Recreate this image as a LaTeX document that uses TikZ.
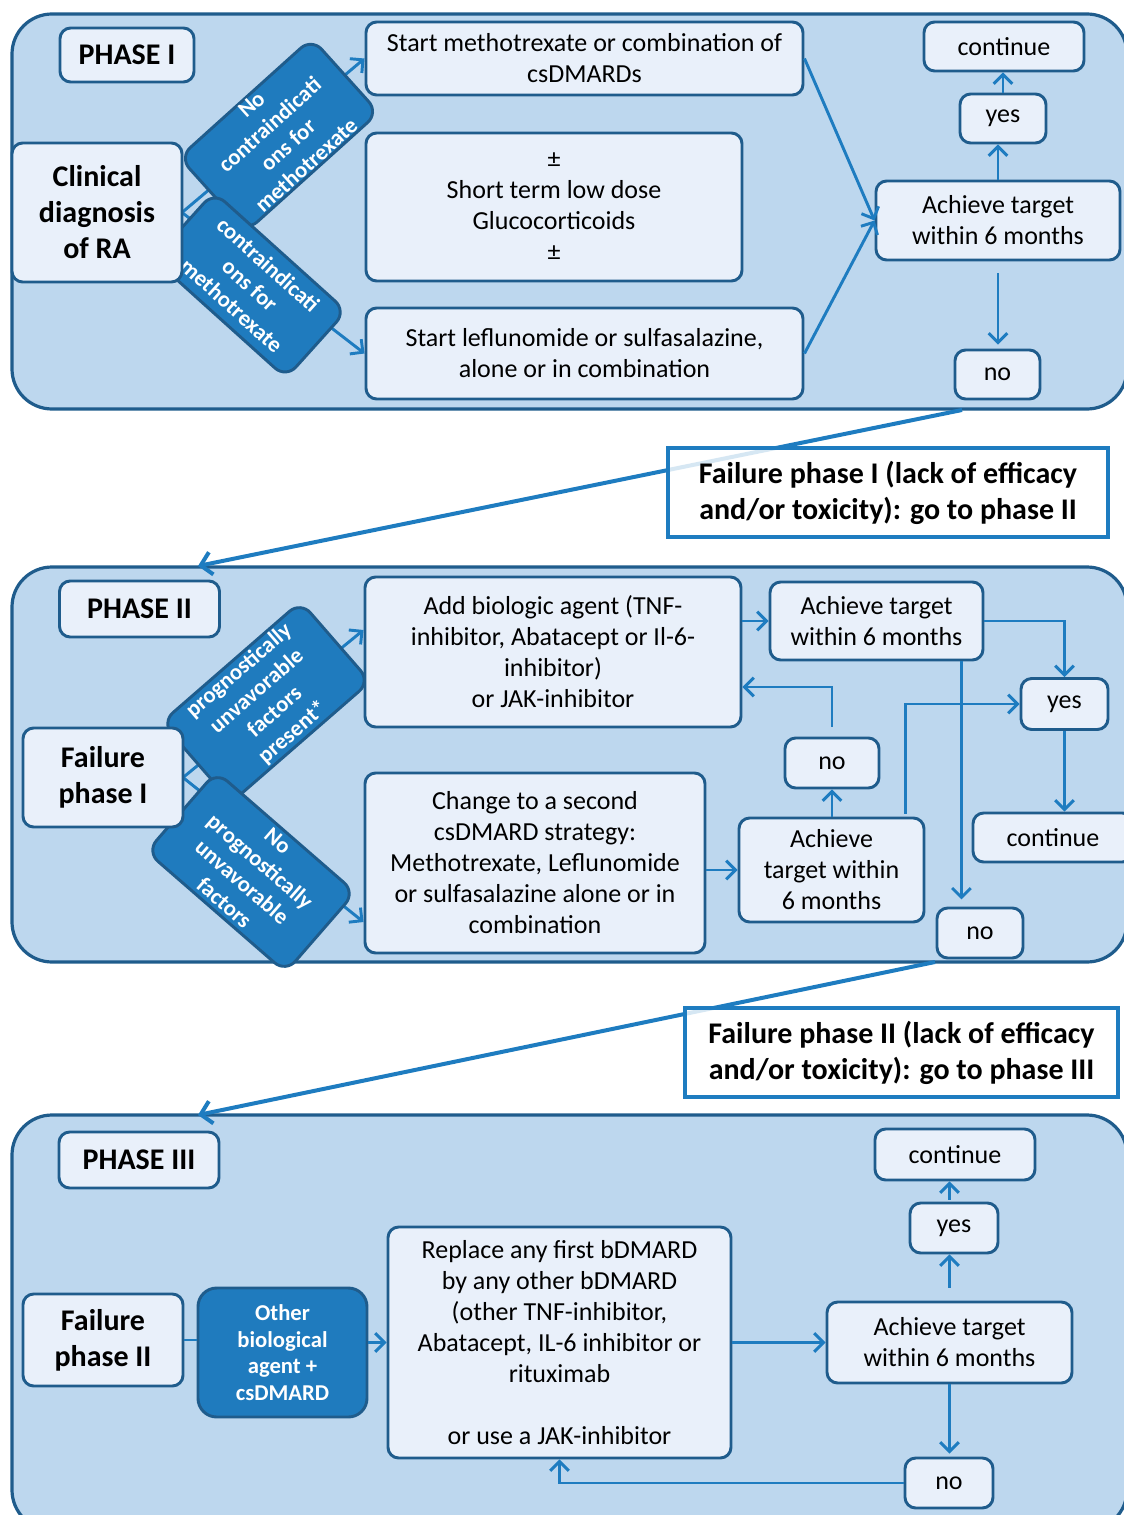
\documentclass[tikz,border=0pt]{standalone}
\usepackage{fontspec}
\setmainfont{Carlito}
\usetikzlibrary{arrows.meta,calc}

\definecolor{panelfill}{HTML}{BDD7EE}
\definecolor{panelline}{HTML}{1F5C8C}
\definecolor{boxfill}{HTML}{E9F0FA}
\definecolor{arrowc}{HTML}{1E7CC0}
\definecolor{darkfill}{HTML}{1F7BBE}

\tikzset{
 panel/.style={draw=panelline, line width=2.4pt, fill=panelfill, rounded corners=30pt},
 wbox/.style={draw=panelline, line width=2.2pt, fill=boxfill, rounded corners=8pt, align=center, inner sep=0pt, font=\fontsize{19.5}{23.25}\selectfont},
 bbox/.style={wbox, font=\fontsize{22.5}{27}\selectfont\bfseries},
 dbox/.style={draw=panelline, line width=2.2pt, fill=darkfill, rounded corners=11pt, align=center, inner sep=0pt, text=white, font=\fontsize{17}{20.5}\selectfont\bfseries},
 callout/.style={draw=arrowc, line width=2.3pt, fill=white, fill opacity=0.82, text opacity=1, align=center, inner sep=0pt, font=\fontsize{22.5}{27}\selectfont\bfseries},
 arr/.style={draw=arrowc, line width=2.2pt, -{Straight Barb[length=7pt,width=14pt,line width=2.2pt]}},
 plainline/.style={draw=arrowc, line width=2.2pt},
 bigarr/.style={draw=arrowc, line width=3pt, -{Straight Barb[length=8pt,width=17pt,line width=3pt]}},
 sz/.style 2 args={minimum width=#1*0.75pt, minimum height=#2*0.75pt},
}

\begin{document}
\begin{tikzpicture}[x=0.75pt, y=-0.75pt]
\useasboundingbox (0,0) rectangle (1123,1515);

% ---------- panels ----------
\draw[panel] (12,14) rectangle (1127,409);
\draw[panel] (12,567) rectangle (1127,962);
\draw[panel] (12,1115) rectangle (1127,1530);

% ================= PHASE I =================
\node[bbox, sz={134}{54}] (ph1) at (127,55) {PHASE I};
\node[wbox, sz={437}{73}] (sm) at (584.5,58.5) {Start methotrexate or combination of\\csDMARDs};
\node[wbox, sz={376}{148}] (gc) at (554,207) {±\\Short term low dose\\Glucocorticoids\\±};
\node[wbox, sz={437}{91}] (sl) at (584.5,353.5) {Start leflunomide or sulfasalazine,\\alone or in combination};
\node[wbox, sz={244}{79}] (at1) at (998,220.5) {Achieve target\\within 6 months};
\node[wbox, sz={86}{49}] (yes1) at (1003,118.5) {yes};
\node[wbox, sz={160}{49}] (cont1) at (1004,46.5) {continue};
\node[wbox, sz={85}{49}] (no1) at (997.5,374.5) {no};

% arrows that pass behind the rotated boxes
\coordinate (clinE) at (182,212.5);
\draw[arr] (clinE) -- (sm.west);
\draw[arr] (clinE) -- (sl.west);

\node[dbox, sz={178}{100}, rotate=42] (r1) at (279,135) {No\\contraindicati\\ons for\\methotrexate};
\node[dbox, sz={178}{90}, rotate=-42] (r2) at (250,285) {contraindicati\\ons for\\methotrexate};
\node[bbox, sz={170}{139}] (clin) at (97,212.5) {Clinical\\diagnosis\\of RA};

\draw[arr] (sm.east) -- (at1.west);
\draw[arr] (sl.east) -- (at1.west);
\draw[arr] (at1.north) -- (at1.north |- yes1.south);
\draw[arr] (yes1.north) -- (yes1.north |- cont1.south);
\draw[arr] ($(at1.south)+(0,12)$) -- ($(at1.south |- no1.north)+(0,-4)$);

% ================= PHASE II =================
\node[bbox, sz={160}{56}] (ph2) at (139.5,609) {PHASE II};
\node[wbox, sz={376}{150}] (ab) at (553,652) {Add biologic agent (TNF-\\inhibitor, Abatacept or Il-6-\\inhibitor)\\or JAK-inhibitor};
\node[wbox, sz={340}{180}] (ch) at (535,863) {Change to a second\\csDMARD strategy:\\Methotrexate, Leflunomide\\or sulfasalazine alone or in\\combination};
\node[wbox, sz={213}{78}] (at2) at (876.5,621) {Achieve target\\within 6 months};
\node[wbox, sz={185}{104}] (at3) at (831.5,870) {Achieve\\target within\\6 months};
\node[wbox, sz={94}{50}] (no2m) at (832,763) {no};
\node[wbox, sz={87}{51}] (yes2) at (1064.5,704) {yes};
\node[wbox, sz={160}{49}] (cont2) at (1053,837.5) {continue};
\node[wbox, sz={86}{50}] (no2) at (980,933) {no};

\coordinate (fp1E) at (183,777.5);
\draw[arr] (fp1E) -- ($(ab.west)+(0,-22)$);
\draw[arr] (fp1E) -- ($(ch.west)+(0,59)$);

\node[dbox, sz={184}{106}, rotate=41] (r3) at (266,702) {prognostically\\unvavorable\\factors\\present*};
\node[dbox, sz={184}{106}, rotate=-41] (r4) at (251,872) {No\\prognostically\\unvavorable\\factors};
\node[bbox, sz={160}{99}] (fp1) at (103,777.5) {Failure\\phase I};

\draw[arr] (ab.east |- at2.west) -- (at2.west);
\draw[arr] (at2.east) -| (yes2.north);
\draw[arr] ($(at2.south east)+(-23,0)$) -- ($(at2.south east)+(-23,238)$);
\draw[arr] (ch.east |- at3.west) -- (at3.west);
\draw[arr] (at3.north -| no2m.south) -- (no2m.south);
\draw[arr] ($(no2m.north)+(0,-10)$) |- ($(ab.east)+(0,35)$);
\draw[arr] ($(at3.north east)+(-20,-3)$) |- (yes2.west);
\draw[arr] (yes2.south) -- (yes2.south |- cont2.north);

% ================= PHASE III =================
\node[bbox, sz={160}{56}] (ph3) at (139,1160) {PHASE III};
\node[bbox, sz={160}{92}] (fp2) at (103,1340) {Failure\\phase II};
\node[dbox, sz={169}{129}, rounded corners=14pt, font=\fontsize{17}{20}\selectfont\bfseries] (ob) at (282.5,1352.5) {Other\\biological\\agent +\\csDMARD};
\node[wbox, sz={343}{231}] (rp) at (559.5,1342.5) {Replace any first bDMARD\\by any other bDMARD\\(other TNF-inhibitor,\\Abatacept, IL-6 inhibitor or\\rituximab\\[23.25pt]or use a JAK-inhibitor};
\node[wbox, sz={245}{81}] (at4) at (949.5,1342.5) {Achieve target\\within 6 months};
\node[wbox, sz={88}{50}] (yes3) at (954,1228) {yes};
\node[wbox, sz={160}{51}] (cont3) at (955,1154.5) {continue};
\node[wbox, sz={88}{50}] (no3) at (949,1483) {no};

\draw[plainline] (fp2.east) -- (fp2.east -| ob.west);
\draw[arr] (ob.east |- rp.west) -- (rp.west);
\draw[arr] (rp.east) -- (at4.west);
\draw[arr] ($(at4.north)+(0,-13)$) -- (at4.north |- yes3.south);
\draw[arr] ($(at4.north |- yes3.north)+(0,-2)$) -- (at4.north |- cont3.south);
\draw[arr] (at4.south) -- ($(at4.south |- no3.north)+(0,-3)$);
\draw[arr] (no3.west) -| (rp.south);

% ================= transitions =================
\coordinate (f1s) at (962,410);
\coordinate (f1e) at (198,566);
\draw[bigarr] (f1s) -- (f1e);
\node[callout, sz={440}{89}] (c1) at (888,492.5) {Failure phase I (lack of efficacy\\and/or toxicity): go to phase II};

\coordinate (f2s) at (935,962);
\coordinate (f2e) at (198,1115);
\draw[bigarr] (f2s) -- (f2e);
\node[callout, sz={433}{89}] (c2) at (901.5,1052.5) {Failure phase II (lack of efficacy\\and/or toxicity): go to phase III};
\end{tikzpicture}
\end{document}
